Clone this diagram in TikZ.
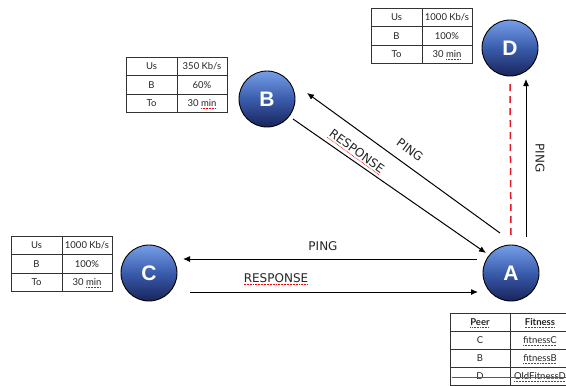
\documentclass[tikz,border=0pt]{standalone}
\usepackage{fontspec}
\setmainfont{Lato}
\newfontfamily\lblfont{DejaVu Sans}
\newfontfamily\circfont{Liberation Sans}
\usetikzlibrary{calc,arrows.meta}
\newcommand\spellmark[1]{\leavevmode\setbox0=\hbox{#1}\rlap{\color{red}\raisebox{-2.2pt}[0pt][0pt]{\hbox to\wd0{\xleaders\hbox{\rule{0.9pt}{0.5pt}\kern0.6pt}\hfil}}}\box0}
\definecolor{cTop}{RGB}{118,158,232}
\definecolor{cMid}{RGB}{58,92,172}
\definecolor{cBot}{RGB}{24,36,92}
\definecolor{dashred}{RGB}{220,30,40}
\newcommand\stattable[6]{%
\begin{scope}[shift={(#2,#3)}]
 \draw[tbl] (0,0) rectangle (101,55.5) (51,0) -- (51,55.5) (0,18.5) -- (101,18.5) (0,37) -- (101,37);
 \node[cell] (#1us) at (25.5,9.25) {Us};
 \node[cell] (#1usv) at (76,9.25) {#4};
 \node[cell] (#1b) at (25.5,27.75) {B};
 \node[cell] (#1bv) at (76,27.75) {#5};
 \node[cell] (#1to) at (25.5,46.25) {To};
 \node[cell] (#1tov) at (76,46.25) {#6};
\end{scope}}
\begin{document}
\begin{tikzpicture}[x=1pt,y=-1pt,
  peer/.style={circle, draw=black, line width=0.9pt, minimum size=56pt, inner sep=0pt,
    top color=cTop, bottom color=cBot, middle color=cMid, text=white,
    font=\circfont\bfseries\fontsize{21}{21}\selectfont},
  tbl/.style={draw=black!80, line width=0.6pt},
  cell/.style={font=\fontsize{9.5}{10}\selectfont, inner sep=0pt, text=black!85},
  lbl/.style={font=\lblfont\fontsize{12}{12}\selectfont, text=black!85, inner sep=1pt},
  arr/.style={draw=black, line width=1pt, -{Latex[length=7pt,width=6pt]}},
  redline/.style={draw=dashred, line width=1.5pt, dash pattern=on 7pt off 5pt}
]
\useasboundingbox (0,0) rectangle (566,386);
\clip (0,0) rectangle (566,386);
\fill[white] (0,0) rectangle (566,386);

% peers
\node[peer] (D) at (510,48) {D};
\node[peer] (B) at (267,99) {B};
\node[peer] (C) at (149,273) {C};
\node[peer] (A) at (511,273) {A};

% info tables
\stattable{d}{371}{8}{1000 Kb/s}{100\%}{30 \spellmark{min}}
\stattable{b}{126}{57}{350 Kb/s}{60\%}{30 \spellmark{min}}
\stattable{c}{11}{236}{1000 Kb/s}{100\%}{30 \spellmark{min}}

% connectors
\draw[arr] ($(A)+(15,-36)$) -- ($(D)+(16,31)$);
\draw[redline] ($(A)+(0,-38)$) -- ($(D)+(0,35)$);
\draw[arr] ($(A)+(-11,-40)$) -- ($(B)+(40,-6)$);
\draw[arr] ($(B)+(26,20)$) -- ($(A)+(-25,-20)$);
\draw[arr] ($(A)+(-34,-14)$) -- ($(C)+(34,-14)$);
\draw[arr] ($(C)+(41,19)$) -- ($(A)+(-33,19)$);

% labels
\node[lbl, rotate=-90] (lpd) at (540,158) {PING};
\node[lbl, rotate=-36] (lpb) at (410,150) {PING};
\node[lbl, rotate=-36] (lrb) at (357,151) {\spellmark{RESPONSE}};
\node[lbl] (lpc) at (323,246) {PING};
\node[lbl] (lrc) at (276,278) {\spellmark{RESPONSE}};

% peer fitness table
\draw[tbl] (450,313) rectangle (572,385) (510,313) -- (510,385)
  (450,331) -- (572,331) (450,349) -- (572,349) (450,367) -- (572,367);
\node[cell, font=\fontsize{9.5}{10}\selectfont\bfseries] (ph) at (480,322) {\spellmark{Peer}};
\node[cell, font=\fontsize{9.5}{10}\selectfont\bfseries] (fh) at (540,322) {\spellmark{Fitness}};
\node[cell] (pC) at (480,340) {C};
\node[cell] (fC) at (540,340) {\spellmark{fitnessC}};
\node[cell] (pB) at (480,358) {B};
\node[cell] (fB) at (540,358) {\spellmark{fitnessB}};
\node[cell] (pD) at (480,376) {D};
\node[cell] (fD) at (540,376) {\spellmark{OldFitnessD}};
\draw[draw=dashred, line width=1pt] ($(pD)+(-28,1)$) -- ($(fD)+(32,1)$);
\end{tikzpicture}
\end{document}
